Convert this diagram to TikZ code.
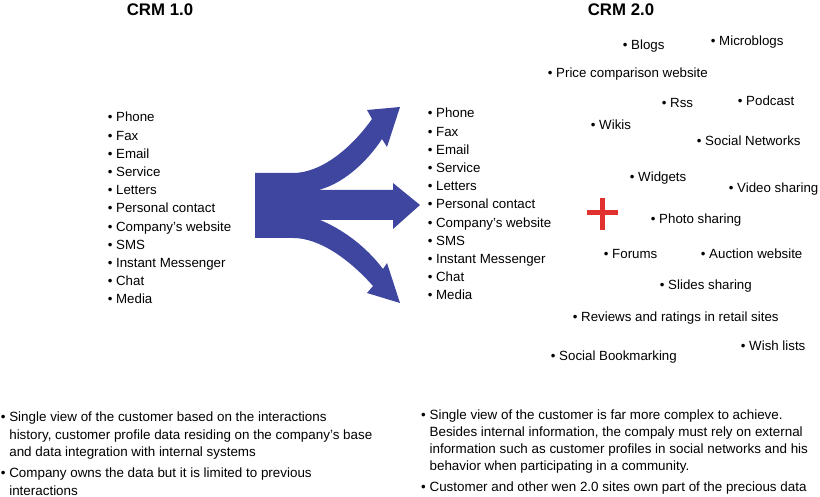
\documentclass[tikz,border=0pt]{standalone}
\usepackage{fontspec}
\setmainfont{Liberation Sans}
\definecolor{arrowblue}{RGB}{62,70,160}
\definecolor{plusred}{RGB}{224,49,47}
\begin{document}
\begin{tikzpicture}[x=1pt,y=-1pt,
  item/.style={anchor=base west,inner sep=0pt,font=\fontsize{13.3}{16}\selectfont},
  title/.style={anchor=base,inner sep=0pt,font=\fontsize{16.8}{19}\selectfont\bfseries},
  paraL/.style={anchor=north west,inner sep=0pt,align=left,font=\fontsize{13.4}{17.5}\selectfont},
  paraR/.style={anchor=north west,inner sep=0pt,align=left,font=\fontsize{13.4}{16.8}\selectfont}]
\useasboundingbox (0,0) rectangle (820,497);
% titles
\node[title] (t1) at (160,16) {CRM 1.0};
\node[title] (t2) at (621,16) {CRM 2.0};
% arrow
\fill[arrowblue] (255,173) -- (293,173) .. controls (320,173) and (350,150) .. (372,119)
  -- (367,110) -- (400,107) -- (387,147) -- (382,139)
  .. controls (365,165) and (340,185) .. (318,190)
  -- (393,190) -- (393,183) -- (420,205) -- (393,229) -- (393,220) -- (320,220)
  .. controls (340,228) and (365,245) .. (383,269)
  -- (387,263) -- (400,303) -- (367,293) -- (373,286)
  .. controls (350,260) and (320,238) .. (293,238) -- (255,238) -- cycle;
% left list
\foreach \t [count=\i] in {Phone,Fax,Email,Service,Letters,Personal contact,Company's website,SMS,Instant Messenger,Chat,Media}
  \node[item] (l\i) at (107.6,{122+(\i-1)*18.2}) {\textbullet\ \t};
% right list
\foreach \t [count=\i] in {Phone,Fax,Email,Service,Letters,Personal contact,Company's website,SMS,Instant Messenger,Chat,Media}
  \node[item] (r\i) at (427.6,{118+(\i-1)*18.2}) {\textbullet\ \t};
% scattered web 2.0 items
\node[item] (s1) at (622.7,50) {\textbullet\ Blogs};
\node[item] (s2) at (710.7,46) {\textbullet\ Microblogs};
\node[item] (s3) at (547.7,78) {\textbullet\ Price comparison website};
\node[item] (s4) at (661.7,108) {\textbullet\ Rss};
\node[item] (s5) at (737.7,106) {\textbullet\ Podcast};
\node[item] (s6) at (590.7,130) {\textbullet\ Wikis};
\node[item] (s7) at (696.7,146) {\textbullet\ Social Networks};
\node[item] (s8) at (629.7,182) {\textbullet\ Widgets};
\node[item] (s9) at (728.7,193) {\textbullet\ Video sharing};
\node[item] (s10) at (650.7,224) {\textbullet\ Photo sharing};
\node[item] (s11) at (603.7,259) {\textbullet\ Forums};
\node[item] (s12) at (700.7,259) {\textbullet\ Auction website};
\node[item] (s13) at (659.7,290) {\textbullet\ Slides sharing};
\node[item] (s14) at (572.7,322) {\textbullet\ Reviews and ratings in retail sites};
\node[item] (s15) at (740.7,350) {\textbullet\ Wish lists};
\node[item] (s16) at (550.7,360) {\textbullet\ Social Bookmarking};
% red plus
\fill[plusred] (587,210.5) rectangle (618,215.5);
\fill[plusred] (600,198) rectangle (605,230);
% bottom paragraphs
\node[paraL] (p1) at (0.7,412) {\textbullet\ Single view of the customer based on the interactions\\
\phantom{\textbullet\ }history, customer profile data residing on the company's base\\
\phantom{\textbullet\ }and data integration with internal systems};
\node[paraL] (p2) at (0.7,468) {\textbullet\ Company owns the data but it is limited to previous\\
\phantom{\textbullet\ }interactions};
\node[paraR] (p3) at (421,410) {\textbullet\ Single view of the customer is far more complex to achieve.\\
\phantom{\textbullet\ }Besides internal information, the compaly must rely on external\\
\phantom{\textbullet\ }information such as customer profiles in social networks and his\\
\phantom{\textbullet\ }behavior when participating in a community.};
\node[paraR] (p4) at (421,482) {\textbullet\ Customer and other wen 2.0 sites own part of the precious data};
\end{tikzpicture}
\end{document}
